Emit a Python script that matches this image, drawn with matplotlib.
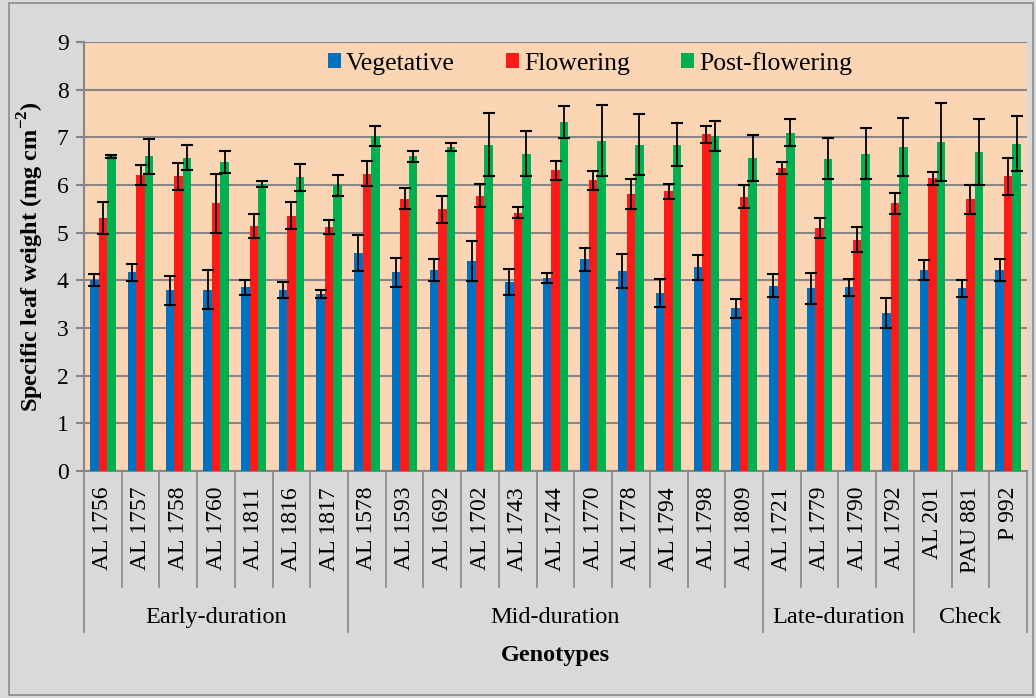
import matplotlib
matplotlib.use("Agg")
import matplotlib.pyplot as plt
import matplotlib.transforms as mtransforms
from matplotlib.patches import Rectangle
import numpy as np

plt.rcParams['font.family'] = ['Liberation Serif', 'DejaVu Serif']
plt.rcParams['mathtext.fontset'] = 'custom'
plt.rcParams['mathtext.rm'] = 'Liberation Serif'
plt.rcParams['mathtext.bf'] = 'Liberation Serif:bold'

genotypes = ['AL 1756', 'AL 1757', 'AL 1758', 'AL 1760', 'AL 1811', 'AL 1816', 'AL 1817',
             'AL 1578', 'AL 1593', 'AL 1692', 'AL 1702', 'AL 1743', 'AL 1744', 'AL 1770',
             'AL 1778', 'AL 1794', 'AL 1798', 'AL 1809',
             'AL 1721', 'AL 1779', 'AL 1790', 'AL 1792',
             'AL 201', 'PAU 881', 'P 992']
groups = ['Early-duration', 'Mid-duration', 'Late-duration', 'Check']
group_sizes = [7, 11, 4, 3]

vegetative = [4.01, 4.17, 3.79, 3.80, 3.85, 3.80, 3.72,
              4.58, 4.17, 4.22, 4.40, 3.96, 4.05, 4.44, 4.19, 3.73, 4.27, 3.41,
              3.89, 3.83, 3.85, 3.32,
              4.21, 3.83, 4.22]
veg_err = [0.12, 0.18, 0.30, 0.41, 0.16, 0.17, 0.08,
           0.38, 0.30, 0.23, 0.42, 0.27, 0.10, 0.24, 0.36, 0.29, 0.27, 0.20,
           0.24, 0.33, 0.17, 0.32,
           0.21, 0.18, 0.23]
flowering = [5.31, 6.20, 6.18, 5.62, 5.14, 5.36, 5.12,
             6.24, 5.71, 5.49, 5.78, 5.42, 6.31, 6.10, 5.81, 5.87, 7.06, 5.75,
             6.36, 5.10, 4.85, 5.62,
             6.14, 5.70, 6.18]
flo_err = [0.33, 0.21, 0.29, 0.62, 0.26, 0.28, 0.15,
           0.26, 0.22, 0.29, 0.24, 0.12, 0.20, 0.20, 0.31, 0.16, 0.17, 0.24,
           0.12, 0.21, 0.26, 0.22,
           0.13, 0.30, 0.38]
post_flowering = [6.60, 6.60, 6.57, 6.48, 6.02, 6.16, 6.00,
                  7.03, 6.60, 6.80, 6.85, 6.66, 7.32, 6.93, 6.85, 6.85, 7.03, 6.57,
                  7.10, 6.55, 6.66, 6.79,
                  6.91, 6.69, 6.87]
post_err = [0.03, 0.37, 0.26, 0.23, 0.07, 0.29, 0.22,
            0.21, 0.12, 0.08, 0.66, 0.47, 0.33, 0.74, 0.65, 0.45, 0.31, 0.48,
            0.29, 0.43, 0.53, 0.61,
            0.82, 0.69, 0.58]

fig = plt.figure(figsize=(10.36, 6.98), dpi=100, facecolor='#d9d9d9')
fig.patches.append(Rectangle((0.009, 0.004), 0.988, 0.992, transform=fig.transFigure,
                             fill=False, edgecolor='#8c8c8c', linewidth=1.2))
ax = fig.add_axes([0.0811, 0.3252, 0.9102, 0.6146])
ax.set_facecolor('#fcd5b4')

x = np.arange(len(genotypes))
w = 0.225
err_kw = dict(ecolor='black', elinewidth=1.3, capsize=4, capthick=1.5)
ax.bar(x - w, vegetative, w, yerr=veg_err, color='#0070c0', label='Vegetative', error_kw=err_kw, zorder=3)
ax.bar(x, flowering, w, yerr=flo_err, color='#ff1a1a', label='Flowering', error_kw=err_kw, zorder=3)
ax.bar(x + w, post_flowering, w, yerr=post_err, color='#00b050', label='Post-flowering', error_kw=err_kw, zorder=3)

ax.set_xlim(-0.5, len(genotypes) - 0.5)
ax.set_ylim(0, 9)
ax.set_yticks(range(10))
ax.grid(axis='y', color='#868686', linewidth=1.5, zorder=0)
ax.set_axisbelow(True)
for s in ['top', 'right']:
    ax.spines[s].set_visible(False)
for s in ['left', 'bottom']:
    ax.spines[s].set_color('#868686')
    ax.spines[s].set_linewidth(1.5)
ax.tick_params(axis='y', labelsize=17, length=6, width=1.5, color='#868686', pad=5)
ax.set_xticks([])

# category labels and separators below the axis
trans = mtransforms.blended_transform_factory(ax.transData, ax.transAxes)
for i, g in enumerate(genotypes):
    ax.text(i, -0.037, g, rotation=90, ha='center', va='top', fontsize=17, transform=trans)
edges = np.cumsum([0] + group_sizes) - 0.5
for k in range(len(genotypes) + 1):
    b = k - 0.5
    y_end = -0.375 if b in edges else -0.27
    ax.plot([b, b], [0, y_end], color='#868686', linewidth=1.2, transform=trans, clip_on=False)
for gi, name in enumerate(groups):
    mid = (edges[gi] + edges[gi + 1]) / 2
    ax.text(mid, -0.342, name, ha='center', va='center', fontsize=17.5, transform=trans)

ax.text(0.5, -0.43, 'Genotypes', ha='center', va='center', fontsize=17.5, fontweight='bold',
        transform=ax.transAxes)
ax.set_ylabel(r'Specific leaf weight (mg cm$^{\mathbf{-2}}$)', fontsize=17.5, fontweight='bold', labelpad=8)

ax.legend(loc='center', bbox_to_anchor=(0.5695, 0.9097), bbox_transform=fig.transFigure,
          ncol=3, frameon=False, fontsize=18.5, handlelength=0.5, handleheight=0.5,
          handletextpad=0.2, columnspacing=2.0)

fig.savefig('out.png', dpi=100, facecolor=fig.get_facecolor())
